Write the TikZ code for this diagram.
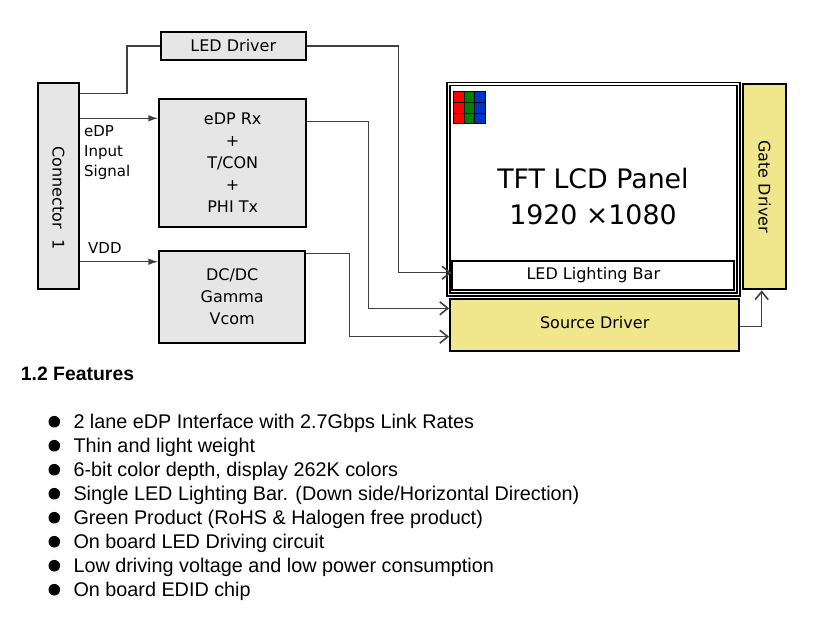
\documentclass[tikz,border=0pt]{standalone}
\usepackage{fontspec}
\setmainfont{Liberation Sans}
\newfontfamily\dejavu{DejaVu Sans}
\usetikzlibrary{arrows.meta}
\definecolor{boxgray}{RGB}{230,230,230}
\definecolor{drvyellow}{RGB}{240,230,140}
\definecolor{pixred}{RGB}{255,0,0}
\definecolor{pixgreen}{RGB}{0,128,0}
\definecolor{pixblue}{RGB}{0,51,204}
\tikzset{
  box/.style={draw, line width=2pt, fill=boxgray, font=\dejavu\fontsize{16}{22}\selectfont, align=center, inner sep=0pt},
  drvbox/.style={box, fill=drvyellow},
  lbl/.style={font=\dejavu\fontsize{15}{20}\selectfont, inner sep=0pt},
  wire/.style={draw=black!75, line width=1.3pt},
  inarr/.style={wire, -{Latex[length=10pt,width=6.5pt]}},
  outarr/.style={wire, -{Straight Barb[length=8pt,width=13pt,line width=1.6pt]}},
}
\begin{document}
\begin{tikzpicture}[x=1pt,y=-1pt]
\useasboundingbox (0,0) rectangle (814,638);

% left blocks
\node[box, minimum width=145.3pt, minimum height=28.6pt] (leddrv) at (233.3,46) {LED Driver};
\node[box, minimum width=41.6pt, minimum height=206pt] (conn) at (58.5,185.7) {};
\node[lbl, rotate=-90, font=\dejavu\fontsize{16}{20}\selectfont] (connlbl) at (58.5,198) {Connector\ \ 1};
\node[box, minimum width=146.7pt, minimum height=127.4pt] (edp) at (232.7,163) {eDP Rx\\+\\T/CON\\+\\PHI Tx};
\node[box, minimum width=145.7pt, minimum height=91.7pt] (dcdc) at (232.2,296.9) {DC/DC\\Gamma\\Vcom};
\node[lbl, anchor=west, align=left] (sig) at (84,153) {eDP\\Input\\Signal};
\node[lbl, anchor=west] (vdd) at (88,248) {VDD};

% panel and drivers
\node[draw, line width=1.5pt, double=white, double distance=1.5pt, minimum width=290pt, minimum height=210.3pt] (panel) at (593.3,189.2) {};
\foreach \c [count=\i from 0] in {pixred,pixgreen,pixblue}
  \foreach \j in {0,1,2}
    \draw[line width=1pt, fill=\c] (453.3+10.7*\i,91.7+10.7*\j) rectangle ++(10.7,10.7);
\node[font=\dejavu\fontsize{26.8}{36}\selectfont, align=center] (title) at (593,197) {TFT LCD Panel\\1920 ×1080};
\node[box, fill=white, minimum width=282pt, minimum height=29.3pt] (ledbar) at (593.3,275.4) {LED Lighting Bar};
\node[drvbox, minimum width=289.3pt, minimum height=51.4pt, text depth=6pt] (src) at (594.7,325) {Source Driver};
\node[drvbox, rotate=-90, minimum width=205.3pt, minimum height=42.4pt] (gate) at (764.5,186.7) {Gate Driver};

% wires
\draw[wire] ([yshift=-11.6pt]conn.north east) -- ++(46.7,0) |- (leddrv.west);
\draw[inarr] (conn.east |- 0,118.3) -- (edp.west |- 0,118.3);
\draw[inarr] (conn.east |- 0,261.7) -- (dcdc.west |- 0,261.7);
\draw[outarr] (leddrv.east) -| (398.3,272.7) -- (ledbar.west |- 0,272.7);
\draw[outarr] (edp.east |- 0,121.7) -| (368.3,308.3) -- (src.west |- 0,308.3);
\draw[outarr] (dcdc.east |- 0,253.3) -| (349.3,336.7) -- (src.west |- 0,336.7);
\draw[outarr] (src.east |- 0,326.7) -| (gate.east -| 761.7,0);

% features
\node[font=\bfseries\fontsize{19.4}{23}\selectfont, anchor=base west, inner sep=0pt] (feat) at (20.7,380.7) {1.2 Features};
\foreach \txt [count=\k from 0] in {2 lane eDP Interface with 2.7Gbps Link Rates,
    Thin and light weight,
    {6-bit color depth, display 262K colors},
    Single LED Lighting Bar. (Down side/Horizontal Direction),
    Green Product (RoHS \& Halogen free product),
    On board LED Driving circuit,
    Low driving voltage and low power consumption,
    On board EDID chip}{
  \fill (54.3,421.7+24*\k) circle (5.8);
  \node[anchor=base west, inner sep=0pt, font=\fontsize{19.8}{24}\selectfont] (f\k) at (73.3,428.3+24*\k) {\txt};
}
\end{tikzpicture}
\end{document}
